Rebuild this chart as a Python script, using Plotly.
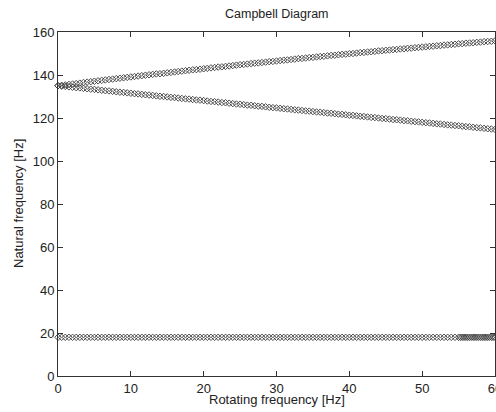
import plotly.graph_objects as go

rot_freq = [0.0, 0.5, 1.0, 1.5, 2.0, 2.5, 3.0, 3.5, 4.0, 4.5, 5.0, 5.5, 6.0, 6.5, 7.0, 7.5, 8.0, 8.5, 9.0, 9.5,
            10.0, 10.5, 11.0, 11.5, 12.0, 12.5, 13.0, 13.5, 14.0, 14.5, 15.0, 15.5, 16.0, 16.5, 17.0, 17.5, 18.0, 18.5, 19.0, 19.5,
            20.0, 20.5, 21.0, 21.5, 22.0, 22.5, 23.0, 23.5, 24.0, 24.5, 25.0, 25.5, 26.0, 26.5, 27.0, 27.5, 28.0, 28.5, 29.0, 29.5,
            30.0, 30.5, 31.0, 31.5, 32.0, 32.5, 33.0, 33.5, 34.0, 34.5, 35.0, 35.5, 36.0, 36.5, 37.0, 37.5, 38.0, 38.5, 39.0, 39.5,
            40.0, 40.5, 41.0, 41.5, 42.0, 42.5, 43.0, 43.5, 44.0, 44.5, 45.0, 45.5, 46.0, 46.5, 47.0, 47.5, 48.0, 48.5, 49.0, 49.5,
            50.0, 50.5, 51.0, 51.5, 52.0, 52.5, 53.0, 53.5, 54.0, 54.5, 55.0, 55.5, 56.0, 56.5, 57.0, 57.5, 58.0, 58.5, 59.0, 59.5,
            60.0]

forward_mode = [135.0, 135.2, 135.4, 135.6, 135.8, 136.0, 136.2, 136.5, 136.7, 136.9, 137.1, 137.3, 137.5, 137.7, 137.9, 138.1, 138.3, 138.5, 138.7, 138.9,
                139.1, 139.3, 139.5, 139.7, 139.9, 140.1, 140.3, 140.5, 140.6, 140.8, 141.0, 141.2, 141.4, 141.6, 141.8, 142.0, 142.2, 142.4, 142.5, 142.7,
                142.9, 143.1, 143.3, 143.5, 143.7, 143.8, 144.0, 144.2, 144.4, 144.6, 144.8, 144.9, 145.1, 145.3, 145.5, 145.6, 145.8, 146.0, 146.2, 146.3,
                146.5, 146.7, 146.9, 147.0, 147.2, 147.4, 147.6, 147.7, 147.9, 148.1, 148.2, 148.4, 148.6, 148.7, 148.9, 149.1, 149.2, 149.4, 149.6, 149.7,
                149.9, 150.0, 150.2, 150.4, 150.5, 150.7, 150.8, 151.0, 151.2, 151.3, 151.5, 151.6, 151.8, 151.9, 152.1, 152.2, 152.4, 152.5, 152.7, 152.8,
                153.0, 153.1, 153.3, 153.4, 153.6, 153.7, 153.9, 154.0, 154.2, 154.3, 154.5, 154.6, 154.8, 154.9, 155.0, 155.2, 155.3, 155.5, 155.6, 155.7,
                155.9]

backward_mode = [135.0, 134.8, 134.7, 134.5, 134.3, 134.1, 134.0, 133.8, 133.6, 133.4, 133.3, 133.1, 132.9, 132.7, 132.6, 132.4, 132.2, 132.0, 131.9, 131.7,
                 131.5, 131.3, 131.2, 131.0, 130.8, 130.7, 130.5, 130.3, 130.1, 130.0, 129.8, 129.6, 129.5, 129.3, 129.1, 128.9, 128.8, 128.6, 128.4, 128.3,
                 128.1, 127.9, 127.7, 127.6, 127.4, 127.2, 127.1, 126.9, 126.7, 126.5, 126.4, 126.2, 126.0, 125.9, 125.7, 125.5, 125.4, 125.2, 125.0, 124.8,
                 124.7, 124.5, 124.3, 124.2, 124.0, 123.8, 123.7, 123.5, 123.3, 123.2, 123.0, 122.8, 122.7, 122.5, 122.3, 122.2, 122.0, 121.8, 121.7, 121.5,
                 121.3, 121.2, 121.0, 120.8, 120.7, 120.5, 120.3, 120.2, 120.0, 119.8, 119.7, 119.5, 119.3, 119.2, 119.0, 118.8, 118.7, 118.5, 118.3, 118.2,
                 118.0, 117.8, 117.7, 117.5, 117.3, 117.2, 117.0, 116.8, 116.7, 116.5, 116.4, 116.2, 116.0, 115.9, 115.7, 115.5, 115.4, 115.2, 115.0, 114.9,
                 114.7]

low_mode = [
    18.0, 18.0, 18.0, 18.0, 18.0, 18.0, 18.0, 18.0, 18.0, 18.0, 18.0, 18.0, 18.0, 18.0, 18.0, 18.0, 18.0, 18.0, 18.0, 18.0,
    18.0, 18.0, 18.0, 18.0, 18.0, 18.0, 18.0, 18.0, 18.0, 18.0, 18.0, 18.0, 18.0, 18.0, 18.0, 18.0, 18.0, 18.0, 18.0, 18.0,
    18.0, 18.0, 18.0, 18.0, 18.0, 18.0, 18.0, 18.0, 18.0, 18.0, 18.0, 18.0, 18.0, 18.0, 18.0, 18.0, 18.0, 18.0, 18.0, 18.0,
    18.0, 18.0, 18.0, 18.0, 18.0, 18.0, 18.0, 18.0, 18.0, 18.0, 18.0, 18.0, 18.0, 18.0, 18.0, 18.0, 18.0, 18.0, 18.0, 18.0,
    18.0, 18.0, 18.0, 18.0, 18.0, 18.0, 18.0, 18.0, 18.0, 18.0, 18.0, 18.0, 18.0, 18.0, 18.0, 18.0, 18.0, 18.0, 18.0, 18.0,
    18.0, 18.0, 18.0, 18.0, 18.0, 18.0, 18.0, 18.0, 18.0, 18.0, 18.0, 18.0, 18.0, 18.0, 18.0, 18.0, 18.0, 18.0, 18.0, 18.0,
    18.0]

# extra dense samples near the end of the low mode
low_extra_freq = [55.25, 55.75, 56.25, 56.75, 57.25, 57.75, 58.25, 58.75, 59.25, 59.75]
low_extra_mode = [18.0, 18.0, 18.0, 18.0, 18.0, 18.0, 18.0, 18.0, 18.0, 18.0]

x_ticks = [0, 10, 20, 30, 40, 50, 60]
y_ticks = [0, 20, 40, 60, 80, 100, 120, 140, 160]

FONT = "Liberation Sans, Arial"
TXT = "#222"

marker = dict(symbol="diamond-open", size=5, color="#3a3a3a", line=dict(width=0.9, color="#3a3a3a"))

fig = go.Figure()
for xs, ys in [(rot_freq, forward_mode), (rot_freq, backward_mode), (rot_freq, low_mode),
               (low_extra_freq, low_extra_mode)]:
    fig.add_trace(go.Scatter(x=xs, y=ys, mode="markers", marker=marker, showlegend=False,
                             cliponaxis=False, hoverinfo="skip"))

axis_common = dict(showgrid=False, zeroline=False, showline=True, linecolor="#333", linewidth=1,
                   mirror="ticks", ticks="inside", ticklen=5, tickcolor="#333", automargin=False,
                   ticklabeloverflow="allow",
                   tickfont=dict(family=FONT, size=13, color=TXT))

fig.update_layout(
    width=496, height=412,
    margin=dict(l=58, r=1, t=32, b=36, autoexpand=False),
    paper_bgcolor="white", plot_bgcolor="white",
    xaxis=dict(range=[0, 60], tickvals=x_ticks, **axis_common),
    yaxis=dict(range=[0, 160], tickvals=y_ticks, **axis_common),
    annotations=[
        dict(text="Campbell Diagram", xref="paper", yref="paper", x=0.5, y=1, yshift=18,
             xanchor="center", yanchor="middle", showarrow=False,
             font=dict(family=FONT, size=12.5, color=TXT)),
        dict(text="Rotating frequency [Hz]", xref="paper", yref="paper", x=0.5, y=0, yshift=-23,
             xanchor="center", yanchor="middle", showarrow=False,
             font=dict(family=FONT, size=13, color=TXT)),
        dict(text="Natural frequency [Hz]", xref="paper", yref="paper", x=0, y=0.5, xshift=-40,
             xanchor="center", yanchor="middle", showarrow=False, textangle=-90,
             font=dict(family=FONT, size=13, color=TXT)),
    ],
)

fig.write_html("out.html", config={"displayModeBar": False, "staticPlot": True},
               post_script="document.body.style.margin='0';document.body.style.overflow='hidden';")
